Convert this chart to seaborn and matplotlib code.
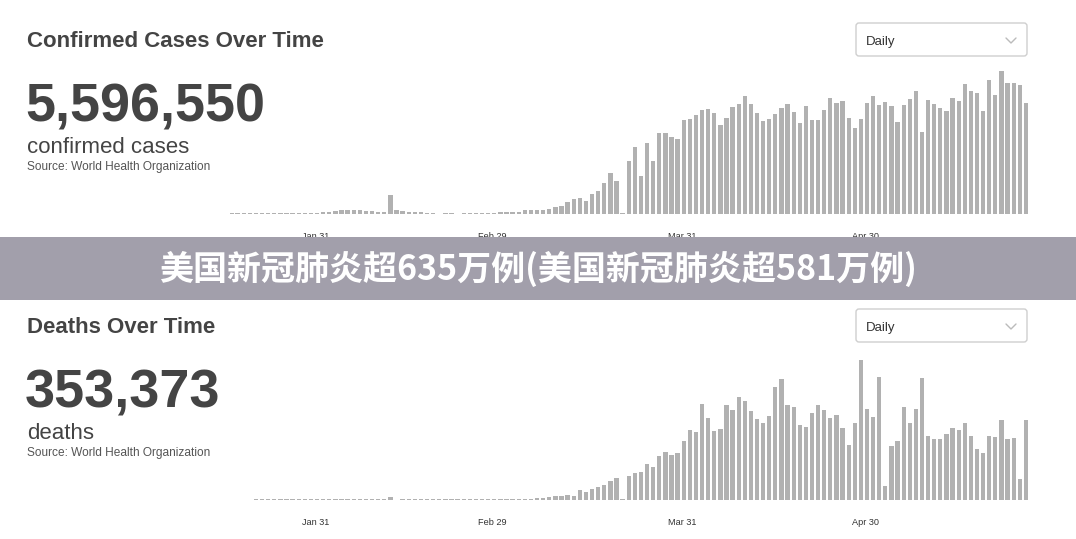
import matplotlib
matplotlib.use("Agg")
import matplotlib.pyplot as plt
from matplotlib.patches import FancyBboxPatch, Rectangle
from matplotlib.lines import Line2D
from matplotlib.transforms import IdentityTransform
import pandas as pd
import seaborn as sns

# ---------------- data ----------------
confirmed_start = "2020-01-17"
# daily confirmed cases worldwide, thousands
confirmed_k = [
    0.4, 0.4, 0.4, 0.4, 0.5, 0.5, 0.5, 0.6,
    0.8, 0.8, 1.0, 1.0, 1.0, 1.0, 1.0,
    1.8, 1.8, 2.4, 3.2, 3.2, 2.9, 2.9, 2.4, 2.4, 1.8, 1.6,
    15.2, 3.4, 2.1, 1.3, 1.3, 1.3, 1.0,
    0.6, 0.3, 0.6, 0.6, 0.3, 0.6, 0.6, 0.8, 0.8, 0.8, 1.0,
    1.6, 1.3, 1.6, 1.8, 3.2, 2.9, 3.2, 3.4, 3.7, 5.8, 6.3,
    9.7, 11.6, 12.4, 10.3, 15.6, 18.2, 24.3, 32.2, 26.1, 1.0, 41.6, 52.9, 30.3, 56.1,
    42.1, 64.2, 64.2, 60.6, 59.0, 74.5, 74.8, 78.0, 81.9, 82.7, 79.8, 70.3, 75.6, 84.8, 87.1,
    93.5, 87.1, 79.6, 73.5, 75.1, 79.0, 84.0, 86.7, 80.6, 72.1, 85.3, 74.0, 74.5, 82.4, 91.6,
    87.9, 89.5, 75.6, 68.2, 74.8, 87.5, 93.2, 86.1, 88.2, 85.1, 72.7, 86.1, 90.6, 97.4, 64.8,
    90.3, 86.7, 83.7, 81.1, 91.6, 89.3, 102.9, 96.9, 95.8, 81.1, 106.1, 94.2, 113.0, 103.3,
    103.3, 101.9, 87.7,
]

deaths_start = "2020-01-21"
# daily deaths worldwide
deaths = [
    40, 40, 40, 40, 40, 40, 40, 40, 40, 40,
    40, 40, 45, 50, 55, 60, 65, 70, 70, 75, 80, 80,
    213, 0, 70, 70, 70, 70, 70, 70, 70, 60, 60, 60, 60,
    95, 40, 40, 40, 40, 45, 45, 50, 50, 55, 60,
    165, 140, 190, 285, 285, 375, 305, 690, 545, 760, 925, 1045, 1330, 1585, 90, 1705,
    1915, 1965, 2555,
    2345, 3145, 3385, 3215, 3315, 4210, 4970, 4830, 6815, 5820, 4880, 5040, 6765, 6410, 7315,
    7030, 6320, 5750, 5465, 5985, 8025, 8590, 6765, 6580, 5325, 5185, 6155, 6765, 6370, 5820,
    6015, 5090, 3905, 5445, 9940, 6480, 5895, 8755, 975, 3835, 4170, 6625, 5465, 6460, 8660,
    4545, 4350, 4310, 4710, 5090, 4990, 5445, 4525, 3620, 3360, 4525, 4475, 5700, 4350,
    4380, 1490, 5700,
]

tick_dates = ["2020-01-31", "2020-02-29", "2020-03-31", "2020-04-30"]
tick_labels = ["Jan 31", "Feb 29", "Mar 31", "Apr 30"]

titles = ["Confirmed Cases Over Time", "Deaths Over Time"]
totals = ["5,596,550", "353,373"]
units = ["confirmed cases", "deaths"]
source = "Source: World Health Organization"
dropdown = "Daily"
banner = "美国新冠肺炎超635万例(美国新冠肺炎超581万例)"

# ---------------- style ----------------
W, H = 1076, 539
BAR = "#b1b1b1"
DARK = "#444444"

sns.set_theme(style="white")
plt.rcParams["font.family"] = ["Liberation Sans", "DejaVu Sans"]

fig = plt.figure(figsize=(W / 100, H / 100), dpi=100)
fig.patch.set_facecolor("white")

origin = pd.Timestamp("2020-01-01")


def frame(start, values):
    d = pd.date_range(start, periods=len(values), freq="D")
    return pd.DataFrame({"day": (d - origin).days.astype(float), "value": values})


def fx(x):
    return x / W


def fy(y):
    return 1 - y / H


tick_pos = [(pd.Timestamp(t) - origin).days - 0.3 for t in tick_dates]

panels = [
    (frame(confirmed_start, confirmed_k), 118.5),
    (frame(deaths_start, deaths), 10650),
]

for i, (df, ymax) in enumerate(panels):
    off = 286 * i
    ax = fig.add_axes([fx(230), fy(214 + off), fx(1032) - fx(230), 150 / H])
    sns.barplot(data=df, x="day", y="value", native_scale=True, width=0.7,
                color=BAR, saturation=1, errorbar=None, ax=ax, linewidth=0)
    ax.set_xlim(15.75, 147.0)
    ax.set_ylim(0, ymax)
    ax.set_xticks(tick_pos)
    ax.set_xticklabels(tick_labels, fontsize=6.6, color="#333333")
    ax.set_yticks([])
    ax.set_xlabel("")
    ax.set_ylabel("")
    ax.tick_params(axis="x", length=0, pad=13)
    for s in ax.spines.values():
        s.set_visible(False)
    ax.set_facecolor("none")

    # header texts
    fig.text(fx(27), fy(47 + off), titles[i], fontsize=16, fontweight="bold",
             color=DARK, va="baseline", ha="left")
    fig.text(fx(25), fy(121 + off), totals[i], fontsize=38.8, fontweight="bold",
             color=DARK, va="baseline", ha="left")
    fig.text(fx(27), fy(153 + off), units[i], fontsize=16, color=DARK,
             va="baseline", ha="left")
    fig.text(fx(27), fy(170 + off), source, fontsize=8.6, color="#555555",
             va="baseline", ha="left")

    # dropdown box
    box = FancyBboxPatch((856, H - (56 + off)), 171, 33,
                         boxstyle="round,pad=0,rounding_size=3",
                         transform=IdentityTransform(), facecolor="white",
                         edgecolor="#cfcfcf", linewidth=1.0)
    fig.patches.append(box)
    fig.text(fx(866), fy(45 + off), dropdown, fontsize=9.5, color="#333333",
             va="baseline", ha="left")
    chev = Line2D([1006, 1011, 1016], [H - (38 + off), H - (43 + off), H - (38 + off)],
                  transform=IdentityTransform(), color="#bbbbbb", linewidth=1.0)
    fig.lines.append(chev)

# banner across the middle
band = Rectangle((0, fy(300)), 1, 63 / H, transform=fig.transFigure,
                 facecolor="#a29fab", edgecolor="none", zorder=10)
fig.patches.append(band)
fig.text(0.5, fy(269), banner, fontsize=24.5, fontweight="bold", color="white",
         ha="center", va="center", zorder=11,
         family=["Noto Sans CJK SC", "DejaVu Sans"])

fig.savefig("out.png", dpi=100, facecolor="white")
